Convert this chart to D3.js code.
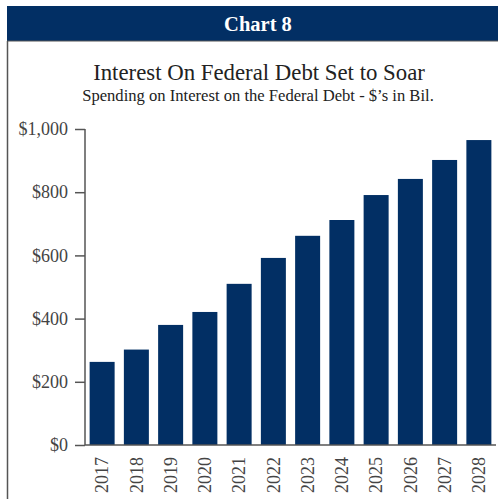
<!DOCTYPE html>
<html><head><meta charset="utf-8">
<script src="https://cdn.jsdelivr.net/npm/d3@7"></script>
<style>body{margin:0;background:#fff}svg{display:block}</style>
</head><body>
<script>
const years = ["2017","2018","2019","2020","2021","2022","2023","2024","2025","2026","2027","2028"];
const interest = [263, 302, 380, 421, 510, 592, 662, 712, 791, 842, 902, 965];
const yTicks = [0, 200, 400, 600, 800, 1000];

const W = 498, H = 499;
const svg = d3.select("body").append("svg").attr("width", W).attr("height", H);
const navy = "#022f64";
const font = "Liberation Serif, Tinos, Times New Roman, Times, DejaVu Serif, serif";

// header
svg.append("rect").attr("x", 7).attr("y", 6).attr("width", W - 7).attr("height", 35).attr("fill", navy);
svg.append("line").attr("x1", 7).attr("x2", W).attr("y1", 41).attr("y2", 41).attr("stroke", "#555").attr("stroke-width", 1);
svg.append("line").attr("x1", 7.5).attr("x2", 7.5).attr("y1", 41).attr("y2", H).attr("stroke", "#555").attr("stroke-width", 1.5);
svg.append("text").attr("x", 258).attr("y", 31).attr("text-anchor", "middle")
  .style("font-family", font).attr("font-weight", "bold").attr("font-size", 20.5).attr("fill", "#fff").text("Chart 8");

svg.append("text").attr("x", 259).attr("y", 80).attr("text-anchor", "middle")
  .style("font-family", font).attr("font-size", 22.8).attr("fill", "#222").text("Interest On Federal Debt Set to Soar");
svg.append("text").attr("x", 258).attr("y", 101).attr("text-anchor", "middle")
  .style("font-family", font).attr("font-size", 16.6).attr("fill", "#222").text("Spending on Interest on the Federal Debt - $\u2019s in Bil.");

const x = d3.scaleBand().domain(years).range([85, 496]).paddingInner(0.27).paddingOuter(0.135);
const y = d3.scaleLinear().domain([0, 1000]).range([445, 129]);

svg.append("g").selectAll("rect").data(years).join("rect")
  .attr("x", d => x(d)).attr("width", x.bandwidth())
  .attr("y", (d, i) => y(interest[i])).attr("height", (d, i) => y(0) - y(interest[i]))
  .attr("fill", navy);

const yAxis = svg.append("g").attr("transform", "translate(85,0)")
  .call(d3.axisLeft(y).tickValues(yTicks).tickSize(10).tickPadding(7)
    .tickFormat(d => "$" + d3.format(",")(d)));
yAxis.select(".domain").attr("stroke", "#555").attr("stroke-width", 1.5).attr("d", "M0,129V445");
yAxis.selectAll(".tick line").attr("stroke", "#555").attr("stroke-width", 1.5);
yAxis.selectAll("text").style("font-family", font).attr("font-size", 18).attr("fill", "#444");

const xAxis = svg.append("g").attr("transform", "translate(0,445)")
  .call(d3.axisBottom(x).tickSize(0).tickPadding(0));
xAxis.select(".domain").attr("stroke", "#555").attr("stroke-width", 1.5).attr("d", "M85,0H496");
xAxis.selectAll("text").style("font-family", font).attr("font-size", 18).attr("fill", "#444")
  .attr("transform", "rotate(-90)").attr("text-anchor", "end").attr("dy", "0.35em").attr("x", -12).attr("y", 0);
</script>
</body></html>
